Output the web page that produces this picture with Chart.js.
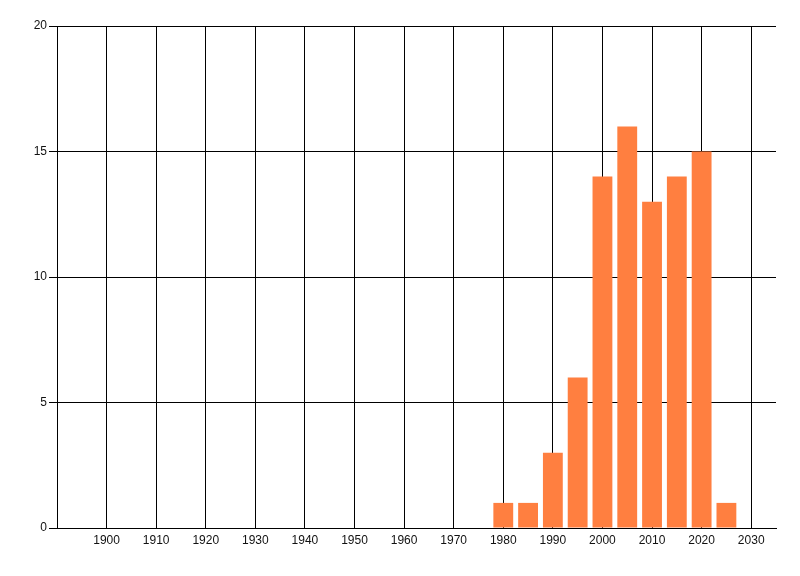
<!DOCTYPE html>
<html>
<head>
<meta charset="utf-8">
<script src="https://cdn.jsdelivr.net/npm/chart.js@4"></script>
<style>
  html, body { margin: 0; padding: 0; background: #fff; }
  #wrap { width: 800px; height: 576px; }
</style>
</head>
<body>
<div id="wrap"><canvas id="barChart"></canvas></div>
<script>
const years = [1980, 1985, 1990, 1995, 2000, 2005, 2010, 2015, 2020, 2025];
const counts = [1, 1, 3, 6, 14, 16, 13, 14, 15, 1];
const xTicks = [1900, 1910, 1920, 1930, 1940, 1950, 1960, 1970, 1980, 1990, 2000, 2010, 2020, 2030];
const yTicks = [0, 5, 10, 15, 20];

const ctx = document.getElementById('barChart');

new Chart(ctx, {
  type: 'bar',
  data: {
    datasets: [{
      data: years.map((y, i) => ({ x: y, y: counts[i] })),
      backgroundColor: '#ff7f40',
      borderWidth: 0,
      barPercentage: 0.8,
      categoryPercentage: 1
    }]
  },
  options: {
    responsive: true,
    maintainAspectRatio: false,
    animation: false,
    layout: { padding: { left: 0, top: 26, right: 24, bottom: 0 } },
    plugins: {
      legend: { display: false },
      tooltip: { enabled: false }
    },
    scales: {
      x: {
        type: 'linear',
        min: 1890,
        max: 2035,
        offset: false,
        afterBuildTicks: s => { s.ticks = xTicks.map(v => ({ value: v })); },
        afterFit: s => { s.height = 48; },
        grid: { color: '#000', lineWidth: 1, drawTicks: false, offset: false },
        border: { color: '#000', width: 1 },
        ticks: {
          color: '#111',
          font: { family: 'Liberation Sans', size: 12 },
          padding: 5,
          maxRotation: 0,
          autoSkip: false,
          callback: v => String(v)
        }
      },
      y: {
        min: 0,
        max: 20,
        afterBuildTicks: s => { s.ticks = yTicks.map(v => ({ value: v })); },
        afterFit: s => { s.width = 57; },
        grid: { color: '#000', lineWidth: 1, tickLength: 8 },
        border: { color: '#000', width: 1 },
        ticks: {
          color: '#111',
          font: { family: 'Liberation Sans', size: 12 },
          padding: 2
        }
      }
    }
  }
});
</script>
</body>
</html>
